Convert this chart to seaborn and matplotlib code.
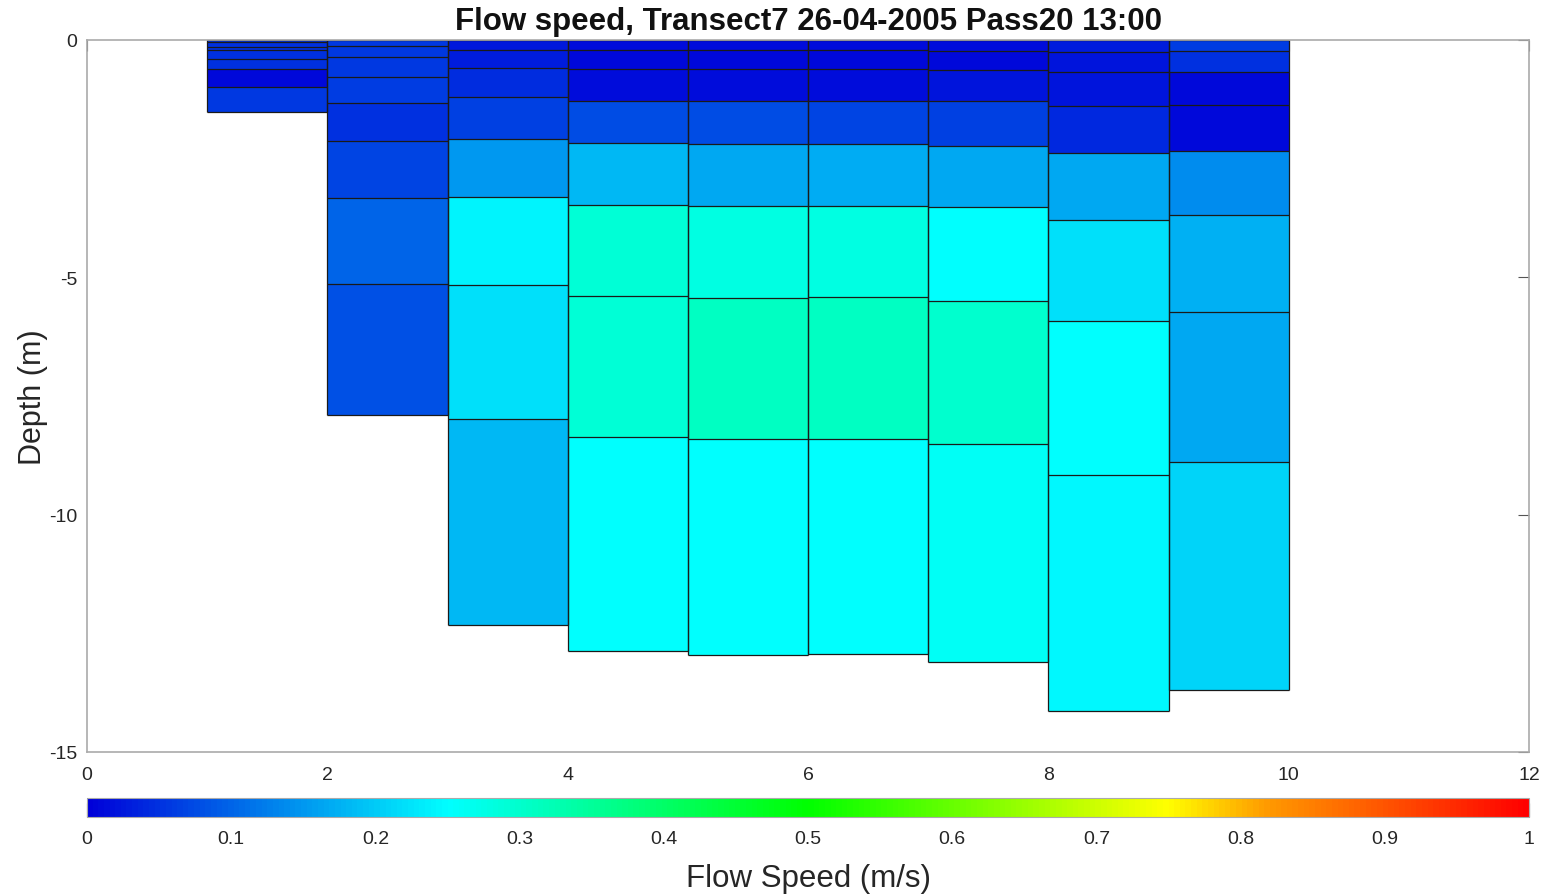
import numpy as np
import matplotlib
matplotlib.use('Agg')
import matplotlib.pyplot as plt
import seaborn as sns
from matplotlib.colors import LinearSegmentedColormap, Normalize

# left edge of each vertical (transect distance)
x_left = [1, 2, 3, 4, 5, 6, 7, 8, 9]

# cell boundaries (m below surface) and flow speed (m/s) per vertical
depth_1 = [0, 0.04, 0.14, 0.21, 0.40, 0.62, 0.98, 1.52]
speed_1 = [0.05, 0.05, 0.05, 0.05, 0.05, 0.01, 0.055]
depth_2 = [0, 0.13, 0.36, 0.77, 1.33, 2.13, 3.33, 5.14, 7.91]
speed_2 = [0.055, 0.055, 0.055, 0.06, 0.05, 0.07, 0.10, 0.08]
depth_3 = [0, 0.21, 0.60, 1.21, 2.09, 3.31, 5.16, 7.98, 12.32]
speed_3 = [0.025, 0.03, 0.045, 0.065, 0.15, 0.24, 0.22, 0.18]
depth_4 = [0, 0.22, 0.62, 1.28, 2.17, 3.48, 5.40, 8.37, 12.87]
speed_4 = [0.015, 0.01, 0.015, 0.075, 0.18, 0.29, 0.29, 0.25]
depth_5 = [0, 0.22, 0.62, 1.28, 2.19, 3.49, 5.43, 8.41, 12.96]
speed_5 = [0.015, 0.01, 0.015, 0.075, 0.165, 0.28, 0.31, 0.25]
depth_6 = [0, 0.21, 0.62, 1.28, 2.20, 3.49, 5.42, 8.41, 12.93]
speed_6 = [0.012, 0.01, 0.015, 0.07, 0.17, 0.28, 0.31, 0.25]
depth_7 = [0, 0.24, 0.63, 1.29, 2.23, 3.52, 5.50, 8.51, 13.10]
speed_7 = [0.012, 0.01, 0.02, 0.065, 0.165, 0.25, 0.30, 0.26]
depth_8 = [0, 0.26, 0.68, 1.40, 2.38, 3.79, 5.91, 9.16, 14.13]
speed_8 = [0.03, 0.02, 0.02, 0.04, 0.165, 0.22, 0.25, 0.245]
depth_9 = [0, 0.24, 0.67, 1.36, 2.33, 3.68, 5.74, 8.89, 13.69]
speed_9 = [0.06, 0.05, 0.01, 0.01, 0.14, 0.175, 0.165, 0.21]

depths = [depth_1, depth_2, depth_3, depth_4, depth_5, depth_6, depth_7, depth_8, depth_9]
speeds = [speed_1, speed_2, speed_3, speed_4, speed_5, speed_6, speed_7, speed_8, speed_9]

cbar_ticks = [0, 0.1, 0.2, 0.3, 0.4, 0.5, 0.6, 0.7, 0.8, 0.9, 1]
cbar_labels = ['0', '0.1', '0.2', '0.3', '0.4', '0.5', '0.6', '0.7', '0.8', '0.9', '1']

sns.set_style('white')
plt.rcParams['font.family'] = ['Liberation Sans', 'DejaVu Sans']
plt.rcParams['axes.unicode_minus'] = False

cmap = LinearSegmentedColormap.from_list('speed', [
    (0.0, (0.0, 0.0, 0.85)),
    (0.25, (0.0, 1.0, 1.0)),
    (0.5, (0.0, 1.0, 0.0)),
    (0.75, (1.0, 1.0, 0.0)),
    (0.82, (1.0, 0.6, 0.0)),
    (1.0, (1.0, 0.0, 0.0)),
])
norm = Normalize(vmin=0, vmax=1)

fig = plt.figure(figsize=(15.49, 8.95), dpi=100)
ax = fig.add_axes([0.0562, 0.1587, 0.9309, 0.7955])
cax = fig.add_axes([0.0562, 0.086, 0.9309, 0.0212])

edge = '#1a1a1a'
for x0, d, s in zip(x_left, depths, speeds):
    xe = np.array([x0, x0 + 1])
    ye = -np.array(d)
    mesh = ax.pcolormesh(xe, ye, np.array(s)[:, None], cmap=cmap, norm=norm,
                         edgecolors='none', antialiased=False)
    # cell outlines drawn on top so no boundary gets covered
    ax.hlines(ye, x0, x0 + 1, colors=edge, linewidth=0.9, zorder=3)
    ax.vlines([x0, x0 + 1], ye[-1], 0, colors=edge, linewidth=0.9, zorder=3)

ax.set_xlim(0, 12)
ax.set_ylim(-15, 0)
ax.set_xticks([0, 2, 4, 6, 8, 10, 12])
ax.set_yticks([-15, -10, -5, 0])
ax.tick_params(direction='in', length=8, width=0.8, color='#555555', labelsize=14,
               labelcolor='#262626', top=True, right=True)
ax.tick_params(axis='y', pad=7)
ax.tick_params(axis='x', pad=10)
for sp in ax.spines.values():
    sp.set_color('#aaaaaa')
    sp.set_linewidth(1.2)
    sp.set_zorder(5)
ax.set_ylabel('Depth (m)', fontsize=22, color='#262626', labelpad=1)
ax.set_title('Flow speed, Transect7 26-04-2005 Pass20 13:00', fontsize=22.5,
             fontweight='bold', color='#111111', pad=8)

cb = fig.colorbar(mesh, cax=cax, orientation='horizontal')
cb.set_ticks(cbar_ticks)
cb.set_ticklabels(cbar_labels)
cb.ax.tick_params(direction='in', length=10, width=0.8, color='#333333',
                  labelsize=14, labelcolor='#262626', pad=9)
cb.outline.set_edgecolor('#aaaaaa')
cb.set_label('Flow Speed (m/s)', fontsize=22.5, color='#262626', labelpad=12)

fig.savefig('out.png', dpi=100, facecolor='white')
